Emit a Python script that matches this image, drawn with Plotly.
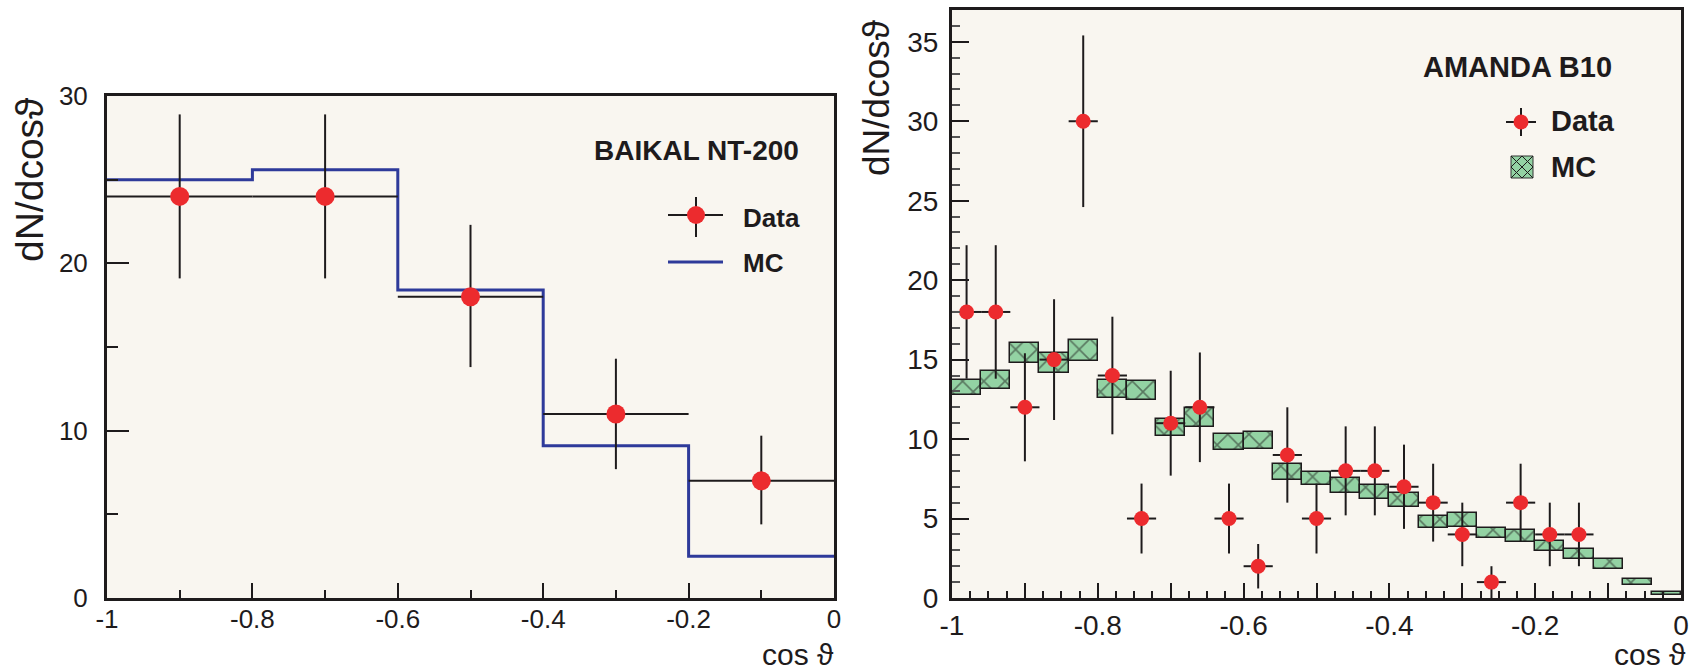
import plotly.graph_objects as go

W, H = 1703, 672

# ---------------- data: BAIKAL NT-200 (left) ----------------
baikal_x = [-0.9, -0.7, -0.5, -0.3, -0.1]
baikal_y = [24, 24, 18, 11, 7]
baikal_err_up = [4.9, 4.9, 4.3, 3.3, 2.7]
baikal_err_dn = [4.9, 4.9, 4.2, 3.3, 2.6]
baikal_xerr = [0.1, 0.1, 0.1, 0.1, 0.1]
baikal_mc_edges = [-1.0, -0.8, -0.6, -0.4, -0.2, 0.0]
baikal_mc = [25.0, 25.6, 18.4, 9.1, 2.5]

# ---------------- data: AMANDA B10 (right) ----------------
amanda_x = [-0.98, -0.94, -0.90, -0.86, -0.82, -0.78, -0.74, -0.70, -0.66, -0.62, -0.58,
            -0.54, -0.50, -0.46, -0.42, -0.38, -0.34, -0.30, -0.26, -0.22, -0.18, -0.14]
amanda_y = [18, 18, 12, 15, 30, 14, 5, 11, 12, 5, 2, 9, 5, 8, 8, 7, 6, 4, 1, 6, 4, 4]
amanda_err = [4.2, 4.2, 3.4, 3.8, 5.4, 3.7, 2.2, 3.3, 3.45, 2.2, 1.4, 3.0, 2.2, 2.8, 2.8,
              2.65, 2.45, 2.0, 1.0, 2.45, 2.0, 2.0]
amanda_xerr = [0.02] * len(amanda_x)
amanda_mc_x = [-0.98, -0.94, -0.90, -0.86, -0.82, -0.78, -0.74, -0.70, -0.66, -0.62, -0.58,
               -0.54, -0.50, -0.46, -0.42, -0.38, -0.34, -0.30, -0.26, -0.22, -0.18, -0.14,
               -0.10, -0.06, -0.02]
amanda_mc_lo = [12.75, 13.13, 14.81, 14.18, 14.89, 12.57, 12.46, 10.18, 10.76, 9.30, 9.36,
                7.41, 7.12, 6.58, 6.22, 5.70, 4.40, 4.44, 3.77, 3.54, 2.97, 2.47, 1.82, 0.84, 0.19]
amanda_mc_hi = [13.72, 14.28, 16.02, 15.39, 16.23, 13.72, 13.63, 11.25, 11.96, 10.32, 10.47,
                8.42, 7.96, 7.54, 7.14, 6.62, 5.15, 5.32, 4.40, 4.27, 3.58, 3.06, 2.45, 1.19, 0.40]
amanda_mc_width = 0.04

# ---------------- tick labels ----------------
left_xticks = [-1, -0.8, -0.6, -0.4, -0.2, 0]
left_xlabels = ["-1", "-0.8", "-0.6", "-0.4", "-0.2", "0"]
left_yticks = [0, 10, 20, 30]
left_ylabels = ["0", "10", "20", "30"]
right_xticks = [-1, -0.9, -0.8, -0.7, -0.6, -0.5, -0.4, -0.3, -0.2, -0.1, 0]
right_xlabels = ["-1", "", "-0.8", "", "-0.6", "", "-0.4", "", "-0.2", "", "0"]
right_yticks = [0, 5, 10, 15, 20, 25, 30, 35]
right_ylabels = ["0", "5", "10", "15", "20", "25", "30", "35"]

RED = "#ec2b2e"
BLUE = "#2e3a9a"
GREEN = "#93d2a3"
INK = "#1e1b1c"
BG = "#f9f6f0"
FONT = "Liberation Sans, Arial, Helvetica, sans-serif"


def px(x):
    return x / W


def py(y):
    return 1 - y / H


fig = go.Figure()

# Left MC histogram (step line)
fig.add_trace(go.Scatter(
    x=baikal_mc_edges, y=baikal_mc + [baikal_mc[-1]], mode="lines", line_shape="hv",
    line=dict(color=BLUE, width=3), xaxis="x", yaxis="y", showlegend=False, hoverinfo="skip"))

# Left data
fig.add_trace(go.Scatter(
    x=baikal_x, y=baikal_y, mode="markers",
    marker=dict(color=RED, size=19, line=dict(width=0)),
    error_y=dict(type="data", symmetric=False, array=baikal_err_up, arrayminus=baikal_err_dn,
                 color=INK, thickness=2, width=0),
    error_x=dict(type="data", array=baikal_xerr, color=INK, thickness=2, width=0),
    xaxis="x", yaxis="y", showlegend=False))

# Right MC boxes (hatched)
fig.add_trace(go.Bar(
    x=amanda_mc_x, y=[h - l for h, l in zip(amanda_mc_hi, amanda_mc_lo)], base=amanda_mc_lo,
    width=amanda_mc_width,
    marker=dict(color=GREEN, line=dict(color=INK, width=1.5),
                pattern=dict(shape="x", fgcolor=INK, size=15, solidity=0.2, fillmode="overlay")),
    xaxis="x2", yaxis="y2", showlegend=False, hoverinfo="skip"))

# Right data
fig.add_trace(go.Scatter(
    x=amanda_x, y=amanda_y, mode="markers",
    marker=dict(color=RED, size=15, line=dict(width=0)),
    error_y=dict(type="data", array=amanda_err, color=INK, thickness=2, width=0),
    error_x=dict(type="data", array=amanda_xerr, color=INK, thickness=2, width=0),
    xaxis="x2", yaxis="y2", showlegend=False))

axis_common = dict(showgrid=False, zeroline=False, showline=True, linecolor=INK, linewidth=3,
                   mirror=True, ticks="inside", tickcolor=INK, tickwidth=2, automargin=False,
                   tickfont=dict(family=FONT, color=INK), tickmode="array")

fig.update_layout(
    width=W, height=H, margin=dict(l=0, r=0, t=0, b=0, pad=0), autosize=False,
    paper_bgcolor="white", plot_bgcolor=BG, bargap=0,
    xaxis=dict(**axis_common, domain=[px(107), px(834)], range=[-1, 0], anchor="y",
               tickvals=left_xticks, ticktext=left_xlabels, ticklen=15,
               tickfont_size=26, ticklabelstandoff=-4,
               minor=dict(tickmode="linear", tick0=-1, dtick=0.1, ticks="inside", ticklen=8,
                          tickwidth=2, tickcolor=INK)),
    yaxis=dict(**axis_common, domain=[py(598), py(96)], range=[0, 30], anchor="x",
               tickvals=left_yticks, ticktext=left_ylabels, ticklen=22,
               tickfont_size=26, ticklabelstandoff=11,
               minor=dict(tickmode="linear", tick0=0, dtick=5, ticks="inside", ticklen=11,
                          tickwidth=2, tickcolor=INK)),
    xaxis2=dict(**axis_common, domain=[px(952), px(1681)], range=[-1, 0], anchor="y2",
                tickvals=right_xticks, ticktext=right_xlabels, ticklen=15,
                tickfont_size=28, ticklabelstandoff=0,
                minor=dict(tickmode="linear", tick0=-1, dtick=0.025, ticks="inside", ticklen=7,
                           tickwidth=1.5, tickcolor=INK)),
    yaxis2=dict(**axis_common, domain=[py(598), py(10)], range=[0, 37], anchor="x2",
                tickvals=right_yticks, ticktext=right_ylabels, ticklen=17,
                tickfont_size=28, ticklabelstandoff=5,
                minor=dict(tickmode="linear", tick0=0, dtick=1, ticks="inside", ticklen=8,
                           tickwidth=1.5, tickcolor="#555555")),
)

annotations = [
    dict(text="dN/dcosϑ", x=px(30), y=py(180), textangle=-90, font=dict(size=39)),
    dict(text="dN/dcosϑ", x=px(876), y=py(98), textangle=-90, font=dict(size=37)),
    dict(text="cos ϑ", x=px(836), y=py(654), xanchor="right", font=dict(size=30)),
    dict(text="cos ϑ", x=px(1688), y=py(654), xanchor="right", font=dict(size=30)),
    dict(text="<b>BAIKAL NT-200</b>", x=px(801), y=py(150), xanchor="right", font=dict(size=28)),
    dict(text="<b>Data</b>", x=px(741), y=py(218), xanchor="left", font=dict(size=26)),
    dict(text="<b>MC</b>", x=px(741), y=py(263), xanchor="left", font=dict(size=26)),
    dict(text="<b>AMANDA B10</b>", x=px(1614), y=py(67), xanchor="right", font=dict(size=29)),
    dict(text="<b>Data</b>", x=px(1549), y=py(121), xanchor="left", font=dict(size=29)),
    dict(text="<b>MC</b>", x=px(1549), y=py(167), xanchor="left", font=dict(size=29)),
]
for a in annotations:
    a.setdefault("xanchor", "center")
    a.update(xref="paper", yref="paper", yanchor="middle", showarrow=False)
    a["font"].update(family=FONT, color=INK)
fig.update_layout(annotations=annotations)


def line(x0, y0, x1, y1, color=INK, width=2):
    return dict(type="line", xref="paper", yref="paper", x0=px(x0), y0=py(y0), x1=px(x1), y1=py(y1),
                line=dict(color=color, width=width))


def circle(cx, cy, r, color):
    return dict(type="circle", xref="paper", yref="paper", x0=px(cx - r), x1=px(cx + r),
                y0=py(cy + r), y1=py(cy - r), fillcolor=color, line=dict(width=0))


shapes = [
    # left legend
    line(668, 215, 723, 215), line(696, 197, 696, 237), circle(696, 215, 9, RED),
    line(668, 262, 723, 262, BLUE, 3),
    # right legend
    line(1506, 122, 1536, 122), line(1521, 108, 1521, 136), circle(1521, 122, 7.5, RED),
    dict(type="rect", xref="paper", yref="paper", x0=px(1511), x1=px(1533), y0=py(178), y1=py(156),
         fillcolor=GREEN, line=dict(color="#333333", width=1)),
    line(1511, 156, 1533, 178, INK, 1), line(1533, 156, 1511, 178, INK, 1),
    line(1511, 167, 1522, 156, INK, 1), line(1522, 156, 1533, 167, INK, 1),
    line(1533, 167, 1522, 178, INK, 1), line(1522, 178, 1511, 167, INK, 1),
]
fig.update_layout(shapes=shapes)

fig.write_html("out.html")
